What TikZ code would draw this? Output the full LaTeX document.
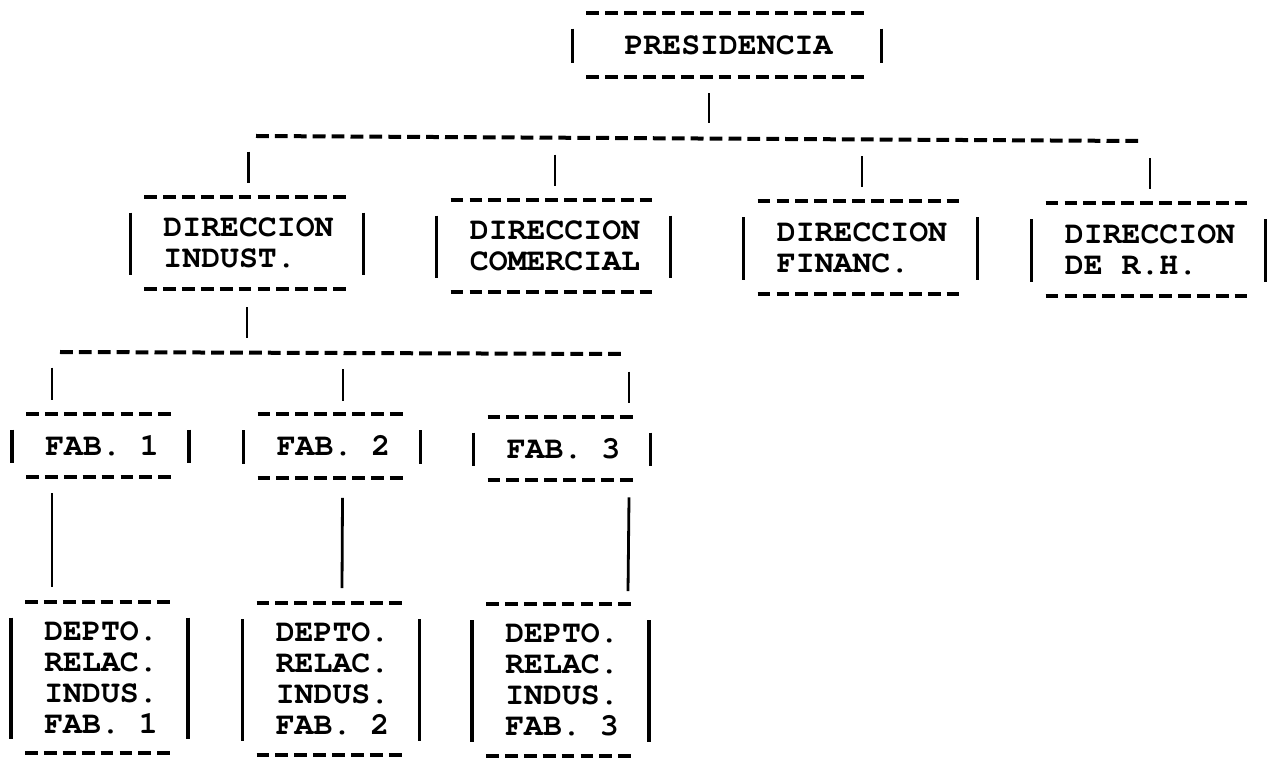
\documentclass[tikz,border=0pt]{standalone}
\usepackage{fontspec}
\newfontfamily\typew{texgyrecursor-bold.otf}
\usetikzlibrary{calc}

\begin{document}
\begin{tikzpicture}[x=0.5pt, y=-0.5pt,
    every node/.style={font=\typew\fontsize{15.75pt}{15.5pt}\selectfont, align=left, inner ysep=0pt, inner xsep=9.45pt},
    hyph/.style={line width=2pt, dash pattern=on 6.4pt off 3.05pt},
    side/.style={line width=1.6pt},
    conn/.style={line width=1.4pt}]
    \useasboundingbox (0,0) rectangle (1267,758);
    % presidencia
    \node[minimum height=32pt, inner xsep=18.9pt] (n0) at (728.5,45) {PRESIDENCIA};
    % direcciones
    \node[minimum height=46pt] (n1) at (248.5,243) {DIRECCION\\INDUST.};
    \node[minimum height=46pt] (n2) at (555,246) {DIRECCION\\COMERCIAL};
    \node[minimum height=46pt] (n3) at (862,247.5) {DIRECCION\\FINANC.};
    \node[minimum height=46pt] (n4) at (1150,249.5) {DIRECCION\\DE R.H.};
    % fabricas
    \node[minimum height=31.5pt] (n5) at (102,445.5) {FAB. 1};
    \node[minimum height=31.5pt] (n6) at (333.5,446) {FAB. 2};
    \node[minimum height=31.5pt] (n7) at (563.5,448.5) {FAB. 3};
    % deptos
    \node[minimum height=75.5pt] (n8) at (101,677.5) {DEPTO.\\RELAC.\\INDUS.\\FAB. 1};
    \node[minimum height=75.5pt] (n9) at (332.5,679) {DEPTO.\\RELAC.\\INDUS.\\FAB. 2};
    \node[minimum height=75.5pt] (n10) at (562,680) {DEPTO.\\RELAC.\\INDUS.\\FAB. 3};
    % typed frames
    \foreach \n in {n0,n1,n2,n3,n4,n5,n6,n7,n8,n9,n10} {
        \draw[hyph] (\n.north west) -- ($(\n.north east)+(-4,0)$);
        \draw[hyph] (\n.south west) -- ($(\n.south east)+(-4,0)$);
        \draw[side] ($(\n.north west)+(-14,16)$) -- ($(\n.south west)+(-14,-14)$);
        \draw[side] ($(\n.north east)+(11,16)$) -- ($(\n.south east)+(11,-14)$);
    }
    % buses
    \coordinate (b0) at (256,136);
    \coordinate (b1) at (1138,141);
    \coordinate (b2) at (60,352);
    \coordinate (b3) at (621,354);
    \draw[hyph] (b0) -- (b1);
    \draw[hyph] (b2) -- (b3);
    % connectors
    \draw[conn] ($(n0.south)+(-19.5,16)$) -- ($(n0.south)+(-19.5,46)$);
    \foreach \n in {n1,n2,n3,n4}
        \draw[conn] ($(\n.north)+(0,-45)$) -- ($(\n.north)+(0,-14)$);
    \draw[conn] ($(n1.south)+(-1.5,18)$) -- ($(n1.south)+(-1.5,49)$);
    \draw[conn] ($(n5.north)+(-50,-46)$) -- ($(n5.north)+(-50,-14)$);
    \draw[conn] ($(n6.north)+(9.5,-45)$) -- ($(n6.north)+(9.5,-13)$);
    \draw[conn] ($(n7.north)+(65.5,-45)$) -- ($(n7.north)+(65.5,-14)$);
    \draw[conn] ($(n5.south)+(-50,16)$) -- ($(n8.north)+(-49,-15)$);
    \draw[conn] ($(n6.south)+(9,20)$) -- ($(n9.north)+(9.5,-15)$);
    \draw[conn] ($(n7.south)+(65.5,17)$) -- ($(n10.north)+(66,-13)$);
\end{tikzpicture}
\end{document}
